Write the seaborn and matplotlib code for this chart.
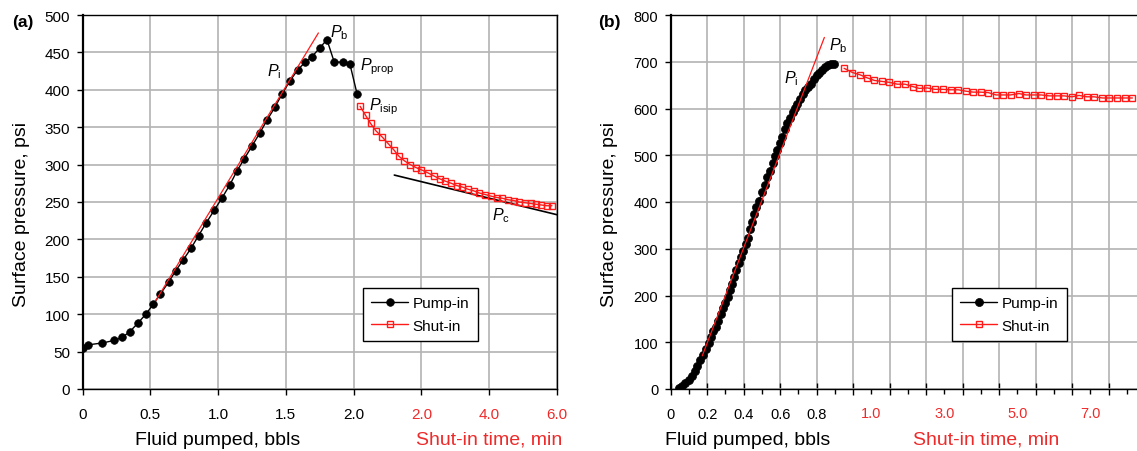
import matplotlib
matplotlib.use('Agg')
import numpy as np
import pandas as pd
import matplotlib.pyplot as plt
import seaborn as sns

# ---- Panel (a): pump-in (fluid pumped, bbl) ----
bbl_a = [0.0, 0.04, 0.145, 0.236, 0.293, 0.349, 0.408, 0.467, 0.521, 0.574, 0.636, 0.687,
         0.741, 0.800, 0.856, 0.912, 0.972, 1.031, 1.087, 1.138, 1.194, 1.251, 1.307, 1.363,
         1.420, 1.471, 1.530, 1.589, 1.643, 1.691, 1.750, 1.803, 1.857, 1.919, 1.973, 2.026]
psi_a = [55, 59, 61.5, 65, 69, 76.6, 88, 100, 113, 127, 143, 158,
         172, 188, 205, 222, 239, 256, 273, 291, 308, 325, 342, 360,
         377, 394, 412, 427, 437, 444, 456, 467, 437, 437, 434, 394]
# ---- Panel (a): shut-in (time, min) ----
tmin_a = [0.19, 0.35, 0.50, 0.66, 0.84, 1.02, 1.18, 1.34, 1.50, 1.67, 1.84, 2.00, 2.19, 2.36,
          2.54, 2.70, 2.88, 3.04, 3.21, 3.38, 3.54, 3.71, 3.88, 4.04, 4.22, 4.39, 4.55, 4.72,
          4.88, 5.06, 5.22, 5.38, 5.54, 5.70, 5.85]
psi_shut_a = [378, 366, 355, 345, 337, 328, 320, 311, 305, 300, 296, 293, 289, 285,
              281, 278, 275, 272, 270, 267, 265, 262, 260, 258, 256, 255, 253, 252,
              250, 249, 248, 247, 246, 245, 245]
tan_a_x, tan_a_y = [0.54, 1.74], [118, 476]          # tangent for P_i
closure_a_x, closure_a_y = [2.30, 3.50], [286, 233]  # tangent for P_c

# ---- Panel (b): pump-in ----
bbl_b = [0.046, 0.062, 0.080, 0.098, 0.115, 0.131, 0.146, 0.161, 0.175, 0.192, 0.208, 0.221,
         0.234, 0.248, 0.261, 0.276, 0.288, 0.299, 0.312, 0.325, 0.336, 0.347, 0.360, 0.372,
         0.385, 0.398, 0.411, 0.424, 0.435, 0.445, 0.458, 0.469, 0.484, 0.502, 0.517, 0.529,
         0.544, 0.559, 0.572, 0.584, 0.599, 0.612, 0.626, 0.639, 0.654, 0.668, 0.681, 0.694,
         0.708, 0.723, 0.738, 0.754, 0.771, 0.785, 0.800, 0.814, 0.831, 0.847, 0.864, 0.878, 0.895]
psi_b = [1.4, 7, 13, 20, 28.5, 38, 50, 61, 73, 85, 98, 112,
         123, 133, 146, 160, 173, 184, 197, 212, 224, 240, 254, 269,
         283, 296, 311, 324, 342, 358, 374, 389, 403, 422, 437, 453,
         467, 483, 498, 511, 526, 540, 556, 569, 580, 592, 601, 610,
         620, 630, 639, 646, 653, 663, 672, 677, 683, 688, 692, 694.5, 696]
# ---- Panel (b): shut-in ----
tmin_b = [0.25, 0.48, 0.69, 0.87, 1.08, 1.28, 1.49, 1.71, 1.92, 2.13, 2.31, 2.53, 2.74,
          2.95, 3.17, 3.38, 3.59, 3.79, 3.99, 4.20, 4.41, 4.61, 4.81, 5.04, 5.23, 5.44,
          5.65, 5.87, 6.07, 6.28, 6.49, 6.69, 6.90, 7.10, 7.33, 7.52, 7.74, 7.95, 8.15]
psi_shut_b = [686, 677, 672, 666, 660, 658, 656, 652, 652, 647, 643, 644, 641,
              641, 640, 640, 637, 635, 635, 634, 629, 629, 629, 632, 629, 629,
              629, 627, 627, 627, 625, 628, 625, 625, 622.5, 622.5, 622.5, 622.5, 622.5]
tan_b_x, tan_b_y = [0.173, 0.842], [71, 752]

# composite x axis: shut-in time is drawn after the pumped volume
T0_A, PER_MIN_A = 2.0, 0.25
T0_B, PER_MIN_B = 0.9, 0.2

RED = '#ff1a1a'
RED_TXT = '#ee2b2b'
GRID = '#b3b3b3'

sns.set_style('whitegrid')
plt.rcParams['font.family'] = ['Liberation Sans', 'DejaVu Sans']
plt.rcParams['mathtext.fontset'] = 'custom'
plt.rcParams['mathtext.rm'] = 'Liberation Sans'
plt.rcParams['mathtext.it'] = 'Liberation Sans:italic'
plt.rcParams.update({'text.color': 'black', 'axes.labelcolor': 'black',
                     'xtick.color': 'black', 'ytick.color': 'black'})

fig = plt.figure(figsize=(11.37, 4.52), dpi=100)
W, H = 1137, 452
ax_a = fig.add_axes([82.5 / W, 62 / H, 474.5 / W, 374 / H])
ax_b = fig.add_axes([670.7 / W, 62 / H, 474.5 / W, 374 / H])


def draw_panel(ax, bbl, psi, tmin, psi_shut, t0, per_min, ms_c, ms_s):
    df_pump = pd.DataFrame({'x': bbl, 'p': psi})
    df_shut = pd.DataFrame({'x': [t0 + per_min * t for t in tmin], 'p': psi_shut})
    sns.lineplot(data=df_pump, x='x', y='p', ax=ax, color='black', lw=1.0, marker='o',
                 markersize=ms_c, markeredgecolor='black', markeredgewidth=0.5,
                 sort=False, estimator=None, label='Pump-in', zorder=4)
    sns.lineplot(data=df_shut, x='x', y='p', ax=ax, color=RED, lw=1.0, marker='s',
                 markersize=ms_s, markerfacecolor='none', markeredgecolor=RED,
                 markeredgewidth=1.0, sort=False, estimator=None, label='Shut-in', zorder=4)


def style_axes(ax, tick_fs):
    ax.set_facecolor('white')
    ax.grid(True, which='major', color=GRID, lw=1.2)
    ax.set_axisbelow(True)
    for s in ax.spines.values():
        s.set_color('black')
        s.set_linewidth(1.0)
    ax.spines['left'].set_linewidth(1.6)
    ax.tick_params(axis='y', direction='out', length=4, width=1, color='black',
                   labelsize=tick_fs, labelcolor='black', pad=5, left=True)
    ax.tick_params(axis='x', labelsize=tick_fs, labelcolor='black', pad=9)
    ax.set_xlabel('')
    ax.set_ylabel('')
    ax.text(-0.128, 0.47, 'Surface pressure, psi', rotation=90, ha='center', va='center',
            fontsize=14, transform=ax.transAxes)


def legend(ax, x0):
    leg = ax.legend(loc='lower left', bbox_to_anchor=(x0, 0.128), frameon=True, fancybox=False,
                    edgecolor='black', framealpha=1, borderaxespad=0, handlelength=2.4,
                    fontsize=11, labelspacing=0.55, borderpad=0.55, handletextpad=0.3)
    leg.get_frame().set_linewidth(1.0)
    for t in leg.get_texts():
        t.set_color('black')


# ---------------- Panel (a) ----------------
draw_panel(ax_a, bbl_a, psi_a, tmin_a, psi_shut_a, T0_A, PER_MIN_A, 5.5, 4.2)
sns.lineplot(x=tan_a_x, y=tan_a_y, ax=ax_a, color=RED, lw=0.9, zorder=5)
sns.lineplot(x=closure_a_x, y=closure_a_y, ax=ax_a, color='black', lw=1.2, zorder=3)
ax_a.set_xlim(0, 3.5)
ax_a.set_ylim(0, 500)
ax_a.set_yticks(np.arange(0, 501, 50))
style_axes(ax_a, 11)
bbl_ticks_a = [0, 0.5, 1.0, 1.5, 2.0]
bbl_labels_a = ['0', '0.5', '1.0', '1.5', '2.0']
t_ticks_a = [2.0, 4.0, 6.0]
ax_a.set_xticks(bbl_ticks_a + [T0_A + PER_MIN_A * t for t in t_ticks_a],
                labels=bbl_labels_a + [f'{t:.1f}' for t in t_ticks_a])
for lab in ax_a.get_xticklabels()[len(bbl_ticks_a):]:
    lab.set_color(RED_TXT)
ax_a.tick_params(axis='x', direction='out', length=4, width=1, color='black', bottom=True)
legend(ax_a, 0.591)

ax_a.text(1.0, -0.135, 'Fluid pumped, bbls', ha='center', va='center', fontsize=14,
          transform=ax_a.get_xaxis_transform())
ax_a.text(3.0, -0.135, 'Shut-in time, min', ha='center', va='center', fontsize=14,
          color=RED_TXT, transform=ax_a.get_xaxis_transform())
ann_fs = 11.5
ax_a.text(1.36, 419, r'$P_{\mathrm{i}}$', fontsize=ann_fs, va='baseline')
ax_a.text(1.822, 472, r'$P_{\mathrm{b}}$', fontsize=ann_fs, va='baseline')
ax_a.text(2.045, 427, r'$P_{\mathrm{prop}}$', fontsize=ann_fs, va='baseline')
ax_a.text(2.112, 374, r'$P_{\mathrm{isip}}$', fontsize=ann_fs, va='baseline')
ax_a.text(3.022, 227, r'$P_{\mathrm{c}}$', fontsize=ann_fs, va='baseline')
fig.text(23 / W, 1 - 23 / H, '(a)', fontsize=12.5, fontweight='bold', ha='center', va='center')

# ---------------- Panel (b) ----------------
draw_panel(ax_b, bbl_b, psi_b, tmin_b, psi_shut_b, T0_B, PER_MIN_B, 5.8, 4.2)
sns.lineplot(x=tan_b_x, y=tan_b_y, ax=ax_b, color=RED, lw=0.9, zorder=5)
ax_b.set_xlim(0, 2.6)
ax_b.set_ylim(0, 800)
ax_b.set_yticks(np.arange(0, 801, 100))
style_axes(ax_b, 10.5)
ax_b.spines['right'].set_visible(False)
grid_b = np.round(np.arange(0, 2.61, 0.2), 1)
bbl_labels_b = {0.0: '0', 0.2: '0.2', 0.4: '0.4', 0.6: '0.6', 0.8: '0.8'}
ax_b.set_xticks(grid_b, labels=[bbl_labels_b.get(v, '') for v in grid_b])
t_ticks_b = [1.0, 3.0, 5.0, 7.0]
t_pos_b = {round(T0_B + PER_MIN_B * t, 1): f'{t:.1f}' for t in t_ticks_b}
minor_b = np.round(np.arange(0.1, 2.6, 0.2), 1)
ax_b.set_xticks(minor_b, labels=[t_pos_b.get(v, '') for v in minor_b], minor=True)
for lab in ax_b.get_xticklabels(minor=True):
    lab.set_color(RED_TXT)
ax_b.tick_params(axis='x', which='major', direction='inout', length=8, width=1, color='black',
                 bottom=True)
ax_b.tick_params(axis='x', which='minor', direction='out', length=3.5, width=1, color='black',
                 bottom=True, labelsize=10.5, pad=9)
ax_b.grid(False, which='minor')
legend(ax_b, 0.593)

ax_b.text(0.424, -0.135, 'Fluid pumped, bbls', ha='center', va='center', fontsize=14,
          transform=ax_b.get_xaxis_transform())
ax_b.text(1.73, -0.135, 'Shut-in time, min', ha='center', va='center', fontsize=14,
          color=RED_TXT, transform=ax_b.get_xaxis_transform())
ax_b.text(0.622, 655, r'$P_{\mathrm{i}}$', fontsize=ann_fs, va='baseline')
ax_b.text(0.869, 727, r'$P_{\mathrm{b}}$', fontsize=ann_fs, va='baseline')
fig.text(609 / W, 1 - 23 / H, '(b)', fontsize=12.5, fontweight='bold', ha='center', va='center')

fig.savefig('out.png', dpi=100, facecolor='white')
